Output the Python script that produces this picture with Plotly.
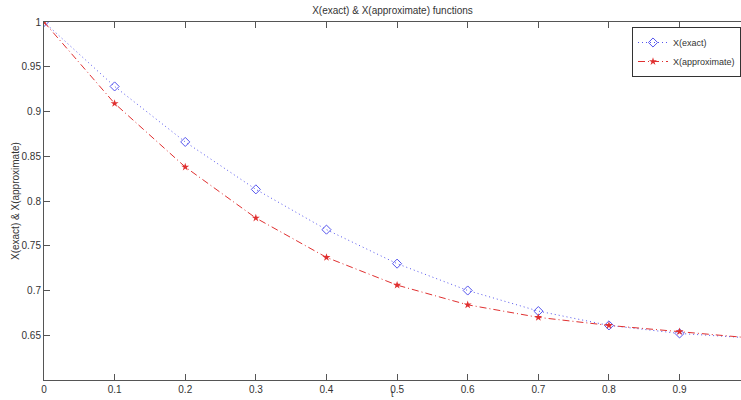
import plotly.graph_objects as go

t = [0, 0.1, 0.2, 0.3, 0.4, 0.5, 0.6, 0.7, 0.8, 0.9, 1.0]
x_exact = [1.0, 0.928, 0.866, 0.813, 0.768, 0.730, 0.700, 0.677, 0.661, 0.652, 0.647]
x_approx = [1.0, 0.909, 0.838, 0.781, 0.737, 0.706, 0.684, 0.670, 0.661, 0.654, 0.647]
x_ticks = [0, 0.1, 0.2, 0.3, 0.4, 0.5, 0.6, 0.7, 0.8, 0.9]
y_ticks = [0.65, 0.7, 0.75, 0.8, 0.85, 0.9, 0.95, 1]

font = "Liberation Sans, Arial, sans-serif"
txt = "#333333"

fig = go.Figure()
fig.add_trace(go.Scatter(
    x=t, y=x_exact, name="X(exact)", mode="lines+markers",
    line=dict(color="#5555ee", width=1, dash="1px,3px"),
    marker=dict(symbol="diamond-open", size=7, color="#5555ee", line=dict(width=1)),
))
fig.add_trace(go.Scatter(
    x=t, y=x_approx, name="X(approximate)", mode="lines+markers",
    line=dict(color="#e03030", width=1, dash="7px,3px,1px,3px"),
    marker=dict(symbol="star", size=6, color="#e03030", line=dict(width=0)),
))

axis_common = dict(
    showgrid=False, zeroline=False, showline=True, linecolor="#555555", linewidth=1,
    ticks="inside", ticklen=6, tickcolor="#555555",
    tickfont=dict(family=font, size=10, color=txt),
)
fig.update_layout(
    width=741, height=400,
    margin=dict(l=44, r=0, t=22, b=20),
    paper_bgcolor="white", plot_bgcolor="white",
    title=dict(text="X(exact) & X(approximate) functions", x=0.5, xanchor="center",
               y=0.975, yanchor="middle", xref="paper",
               font=dict(family=font, size=10, color=txt)),
    xaxis=dict(range=[0, 0.987], tickvals=x_ticks, ticktext=[str(v) for v in x_ticks],
               mirror="ticks", **axis_common),
    yaxis=dict(range=[0.6, 1.0], tickvals=y_ticks, ticktext=[f"{v:g}" for v in y_ticks],
               **axis_common),
    legend=dict(x=1, xanchor="right", y=0.986, yanchor="top",
                bgcolor="white", bordercolor="#333333", borderwidth=1,
                font=dict(family=font, size=9, color=txt),
                tracegroupgap=0, itemwidth=30),
    showlegend=True,
    annotations=[
        dict(text="X(exact) & X(approximate)", xref="paper", yref="paper",
             x=-29 / 697, y=0.5, xanchor="center", yanchor="middle", textangle=-90,
             showarrow=False, font=dict(family=font, size=10, color=txt)),
        dict(text="t", xref="paper", yref="paper", borderpad=0,
             x=0.5, y=-20 / 358, xanchor="center", yanchor="bottom",
             showarrow=False, font=dict(family=font, size=9, color=txt)),
    ],
)
fig.write_html("out.html")
